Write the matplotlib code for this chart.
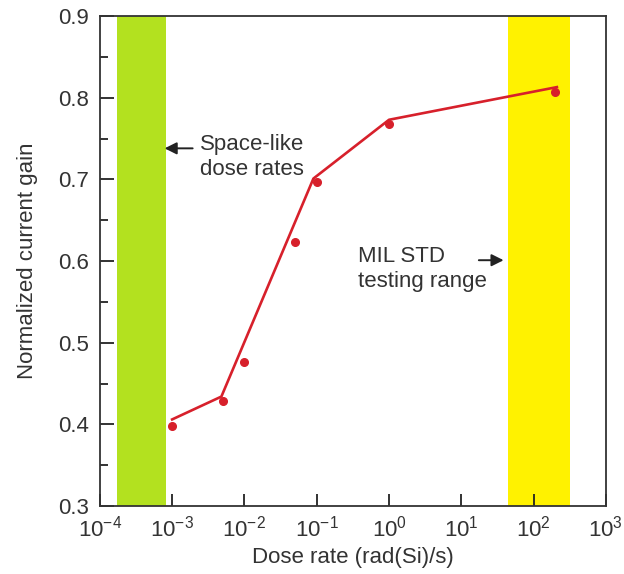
import matplotlib
matplotlib.use("Agg")
import matplotlib.pyplot as plt

plt.rcParams['font.family'] = ['Liberation Sans', 'DejaVu Sans']
plt.rcParams['mathtext.fontset'] = 'custom'
plt.rcParams['mathtext.rm'] = 'Liberation Sans'
plt.rcParams['mathtext.it'] = 'Liberation Sans:italic'
plt.rcParams['mathtext.bf'] = 'Liberation Sans:bold'

# measured points
dose_rate = [1e-3, 5e-3, 1e-2, 5e-2, 1e-1, 1.0, 200.0]
gain = [0.398, 0.429, 0.476, 0.623, 0.697, 0.768, 0.807]

# fitted line through the data
fit_rate = [1e-3, 4.8e-3, 9e-2, 1.0, 210.0]
fit_gain = [0.406, 0.434, 0.701, 0.773, 0.813]

# shaded ranges
space_band = (1.7e-4, 8.1e-4)
mil_band = (44.0, 316.0)

red = '#d7202b'

fig = plt.figure(figsize=(6.24, 5.74), dpi=100)
ax = fig.add_axes([0.160, 0.1185, 0.811, 0.8535])

ax.axvspan(*space_band, color='#b3e11f', lw=0, zorder=0)
ax.axvspan(*mil_band, color='#fff200', lw=0, zorder=0)

ax.plot(fit_rate, fit_gain, color=red, lw=1.9, zorder=2)
ax.plot(dose_rate, gain, 'o', color=red, ms=5.5, zorder=3)

ax.set_xscale('log')
ax.set_xlim(1e-4, 1e3)
ax.set_ylim(0.3, 0.9)
ax.set_yticks([0.3, 0.4, 0.5, 0.6, 0.7, 0.8, 0.9])
ax.set_yticks([0.35, 0.45, 0.55, 0.65, 0.75, 0.85], minor=True)
ax.set_xticks([10.0**k for k in range(-4, 4)])
ax.xaxis.set_minor_locator(matplotlib.ticker.NullLocator())

ax.tick_params(axis='both', which='major', direction='in', length=10,
               width=1.3, labelsize=16, color='#222222', labelcolor='#333333')
ax.tick_params(axis='y', which='minor', direction='in', length=6,
               width=1.3, color='#222222')
ax.tick_params(axis='x', length=8.5, pad=7)
ax.tick_params(axis='y', which='major', pad=8)
for s in ax.spines.values():
    s.set_linewidth(1.3)
    s.set_color('#333333')

ax.set_xlabel('Dose rate (rad(Si)/s)', fontsize=16, color='#333333', labelpad=4)
ax.set_ylabel('Normalized current gain', fontsize=16, color='#333333', labelpad=14)

ax.annotate('', xy=(7.2e-4, 0.738), xytext=(2.1e-3, 0.738),
            arrowprops=dict(arrowstyle='-|>', color='#222222', lw=1.4,
                            mutation_scale=18))
ax.text(2.4e-3, 0.728, 'Space-like\ndose rates', fontsize=16, color='#333333',
        ha='left', va='center', linespacing=1.25)

ax.annotate('', xy=(42.0, 0.601), xytext=(16.0, 0.601),
            arrowprops=dict(arrowstyle='-|>', color='#222222', lw=1.4,
                            mutation_scale=18))
ax.text(0.37, 0.59, 'MIL STD\ntesting range', fontsize=16, color='#333333',
        ha='left', va='center', linespacing=1.25)

fig.savefig('out.png', dpi=100)
